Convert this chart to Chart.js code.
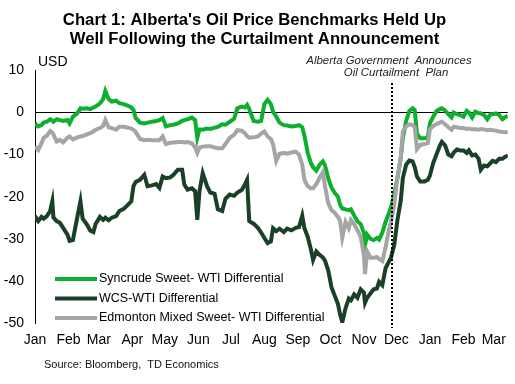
<!DOCTYPE html>
<html>
<head>
<meta charset="utf-8">
<script src="https://cdn.jsdelivr.net/npm/chart.js@4.4.1/dist/chart.umd.min.js"></script>
<style>
  html, body { margin: 0; padding: 0; background: #fff; }
</style>
</head>
<body>
<canvas id="chart" width="515" height="384"></canvas>
<script>
// Days since Jan 1, 2018 (shared by all three series)
const days = [0,3,6,8,11,14,16,17,20,23,26,30,32,35,39,42,44,48,51,54,56,60,63,65,68,71,75,78,82,86,89,91,93,97,101,104,108,112,115,118,121,125,128,132,136,138,141,145,148,150,152,155,159,162,166,169,173,176,180,184,187,191,194,196,198,202,206,209,212,215,218,220,223,226,230,233,237,241,244,247,249,252,255,257,260,263,266,268,271,274,277,280,282,284,287,290,292,295,298,301,304,305,307,310,313,316,318,321,324,327,329,332,335,338,340,343,346,349,351,353,356,360,363,365,368,371,374,376,379,382,385,387,390,393,396,399,401,404,407,410,412,415,418,421,423,426,429,432,434,437];

const syncrude = [-2.6,-3.3,-3.0,-2.4,-2.2,-1.6,-1.9,-2.2,-1.6,-1.8,-2.0,-1.8,-2.6,-1.0,-0.2,1.0,0.9,1.0,0.8,1.2,1.4,2.2,3.2,5.1,3.2,2.6,2.8,2.2,2.0,1.6,1.2,0.6,-1.3,-2.4,-2.6,-2.4,-2.2,-2.0,-1.8,-1.3,-3.3,-3.0,-2.9,-2.6,-2.0,-1.8,-1.6,-1.2,-1.8,-6.0,-4.0,-4.1,-3.8,-3.9,-3.6,-3.4,-2.8,-2.9,-2.2,-1.5,1.0,1.4,1.2,1.8,0.8,-2.0,-2.2,-2.0,2.0,3.0,2.0,0.2,-1.0,-2.4,-3.0,-3.1,-3.3,-3.2,-3.0,-3.5,-5.5,-9.5,-12.0,-13.0,-13.8,-12.4,-11.6,-12.5,-15.6,-17.8,-19.1,-20.0,-21.9,-22.8,-23.0,-23.2,-23.0,-24.5,-25.8,-26.5,-28.6,-31.5,-29.0,-30.0,-30.3,-29.8,-30.2,-28.5,-26.0,-24.0,-22.5,-19.5,-15.5,-10.8,-6.0,-2.0,0.4,1.0,0.6,-5.0,-6.1,-6.1,-6.0,-2.5,-1.0,0.3,0.8,1.0,0.5,-0.4,-1.2,0.0,-0.4,-0.6,-1.0,0.4,0.0,-1.2,0.2,-0.2,-0.2,-0.6,-1.6,-0.4,-0.4,-0.2,-0.6,-1.6,-1.2,-0.8];

const wcs = [-24.6,-25.8,-24.8,-25.2,-24.6,-23.4,-21.1,-24.9,-25.8,-26.2,-27.4,-29.0,-30.5,-30.3,-25.0,-21.1,-25.2,-26.6,-28.0,-28.4,-26.5,-24.8,-25.5,-25.0,-25.6,-25.0,-24.6,-23.4,-22.9,-21.9,-21.1,-17.5,-16.5,-16.0,-14.8,-17.5,-17.3,-17.0,-17.9,-15.2,-15.6,-15.4,-14.8,-13.6,-13.6,-17.1,-18.3,-18.0,-18.7,-25.5,-18.7,-14.4,-17.5,-19.0,-19.3,-23.0,-23.4,-20.5,-19.5,-19.8,-19.0,-18.4,-17.1,-16.0,-25.8,-26.4,-27.4,-28.5,-29.8,-31.0,-30.6,-27.5,-28.2,-27.6,-28.4,-27.6,-28.0,-27.4,-27.2,-24.5,-27.5,-29.5,-32.5,-35.0,-33.0,-33.8,-34.4,-35.2,-37.5,-41.5,-43.5,-45.5,-48.0,-49.8,-46.5,-44.2,-44.6,-43.2,-44.0,-42.0,-42.8,-45.2,-44.0,-43.0,-42.0,-41.8,-40.2,-41.0,-37.0,-35.5,-34.5,-31.5,-25.5,-21.0,-15.5,-12.4,-11.4,-11.6,-13.0,-15.2,-16.4,-16.4,-16.0,-15.0,-12.0,-10.0,-8.0,-7.0,-7.8,-10.0,-10.4,-9.5,-8.8,-9.0,-9.0,-9.6,-9.0,-10.2,-10.0,-11.0,-13.6,-12.6,-12.8,-12.0,-11.5,-11.8,-11.0,-11.0,-10.6,-10.2];

const edmonton = [-8.1,-8.9,-7.3,-6.0,-5.5,-4.4,-4.8,-5.2,-6.9,-6.5,-7.1,-6.0,-5.7,-6.4,-5.9,-5.7,-5.6,-5.2,-4.9,-4.5,-4.1,-3.7,-3.2,-1.8,-3.5,-3.7,-4.1,-3.4,-3.4,-3.6,-3.8,-4.1,-4.6,-6.3,-6.6,-6.5,-6.6,-6.6,-6.6,-5.7,-7.5,-7.2,-7.1,-7.0,-7.0,-7.1,-7.0,-7.3,-8.3,-9.6,-8.3,-8.1,-8.0,-8.0,-8.3,-8.5,-8.5,-7.5,-6.0,-5.3,-4.2,-4.3,-4.9,-5.6,-6.0,-5.9,-5.7,-5.0,-4.5,-5.7,-6.3,-7.5,-11.5,-9.8,-9.6,-9.8,-9.5,-9.3,-10.0,-12.4,-16.0,-17.5,-18.0,-18.0,-17.0,-15.5,-14.2,-17.5,-21.5,-23.2,-23.8,-24.8,-25.8,-29.7,-26.0,-27.5,-25.5,-26.5,-28.0,-29.5,-34.0,-38.4,-33.0,-34.5,-34.5,-34.3,-34.8,-35.3,-32.0,-28.0,-26.0,-21.9,-15.6,-11.0,-4.5,-3.3,-2.8,-3.0,-3.5,-8.7,-7.7,-7.5,-7.3,-4.0,-3.2,-2.8,-2.4,-2.2,-2.8,-3.5,-4.1,-3.4,-3.5,-3.7,-3.7,-3.9,-3.8,-4.0,-4.0,-4.1,-3.9,-4.0,-4.2,-4.1,-4.2,-4.3,-4.5,-4.6,-4.7,-4.6];

// Month ticks (first day of each month)
const monthDays = [0,31,59,90,120,151,181,212,243,273,304,334,365,396,424];
const monthLabels = ['Jan','Feb','Mar','Apr','May','Jun','Jul','Aug','Sep','Oct','Nov','Dec','Jan','Feb','Mar'];

const seriesNames = ['Syncrude Sweet- WTI Differential', 'WCS-WTI Differential', 'Edmonton Mixed Sweet- WTI Differential'];
const seriesColors = ['#0CB02E', '#1A4027', '#A5A5A5'];
const announceDay = 330;

const FONT = "'Liberation Sans', Arial, sans-serif";

function toPoints(values) {
  return days.map((d, i) => ({ x: d, y: values[i] }));
}

// Draw the dotted line, labels, legend and source note
const overlay = {
  id: 'overlay',
  afterDatasetsDraw(chart) {
    const { ctx, chartArea, scales: { x, y } } = chart;
    ctx.save();

    // announcement marker
    const xp = Math.round(x.getPixelForValue(announceDay));
    ctx.strokeStyle = '#000';
    ctx.lineWidth = 2;
    ctx.setLineDash([2, 2]);
    ctx.beginPath();
    ctx.moveTo(xp, y.getPixelForValue(7));
    ctx.lineTo(xp, chartArea.bottom + 5);
    ctx.stroke();
    ctx.setLineDash([]);

    ctx.fillStyle = '#222';
    ctx.font = 'italic 11.4px ' + FONT;
    ctx.textAlign = 'center';
    ctx.textBaseline = 'middle';
    ctx.fillText('Alberta Government  Announces', xp - 3, 61);
    ctx.fillText('Oil Curtailment  Plan', xp + 4, 73);

    // unit label
    ctx.fillStyle = '#000';
    ctx.font = '14px ' + FONT;
    ctx.textAlign = 'left';
    ctx.fillText('USD', chartArea.left + 3, 62);

    // legend
    ctx.font = '12.5px ' + FONT;
    seriesNames.forEach((name, i) => {
      const ly = 279 + i * 19.5;
      ctx.strokeStyle = seriesColors[i];
      ctx.lineWidth = 4;
      ctx.beginPath();
      ctx.moveTo(55, ly);
      ctx.lineTo(97, ly);
      ctx.stroke();
      ctx.fillStyle = '#000';
      ctx.fillText(name, 99, ly);
    });

    // source
    ctx.font = '11px ' + FONT;
    ctx.fillStyle = '#111';
    ctx.fillText('Source: Bloomberg,  TD Economics', 44, 365);
    ctx.restore();
  }
};

const datasets = seriesNames.map((name, i) => ({
  label: name,
  data: toPoints([syncrude, wcs, edmonton][i]),
  borderColor: seriesColors[i],
  backgroundColor: seriesColors[i],
  borderWidth: 4,
  pointRadius: 0,
  tension: 0,
  order: 2 - i
}));

new Chart(document.getElementById('chart'), {
  type: 'line',
  data: { datasets },
  options: {
    responsive: false,
    animation: false,
    layout: { padding: { left: 0, right: 6, top: 0, bottom: 0 } },
    plugins: {
      legend: { display: false },
      tooltip: { enabled: false },
      title: {
        display: true,
        text: ["Chart 1: Alberta's Oil Price Benchmarks Held Up", 'Well Following the Curtailment Announcement'],
        color: '#000',
        font: { family: FONT, size: 16.7, weight: 'bold', lineHeight: 1.15 },
        padding: { top: 11, bottom: 21 }
      }
    },
    scales: {
      x: {
        type: 'linear',
        min: 0,
        max: 437,
        grid: { display: false, drawTicks: false },
        border: { display: false },
        afterBuildTicks: scale => { scale.ticks = monthDays.map(v => ({ value: v })); },
        afterFit: scale => { scale.height = 61; },
        ticks: {
          autoSkip: false,
          maxRotation: 0,
          padding: 9,
          color: '#000',
          font: { family: FONT, size: 14 },
          callback: value => monthLabels[monthDays.indexOf(value)]
        }
      },
      y: {
        min: -50,
        max: 10,
        afterFit: scale => { scale.width = 35; },
        grid: {
          drawTicks: false,
          color: ctx => ctx.tick && ctx.tick.value === 0 ? '#000' : 'rgba(0,0,0,0)',
          lineWidth: 1
        },
        border: { display: true, color: '#000', width: 1 },
        ticks: {
          stepSize: 10,
          padding: 11,
          color: '#000',
          font: { family: FONT, size: 14 }
        }
      }
    }
  },
  plugins: [overlay]
});
</script>
</body>
</html>
